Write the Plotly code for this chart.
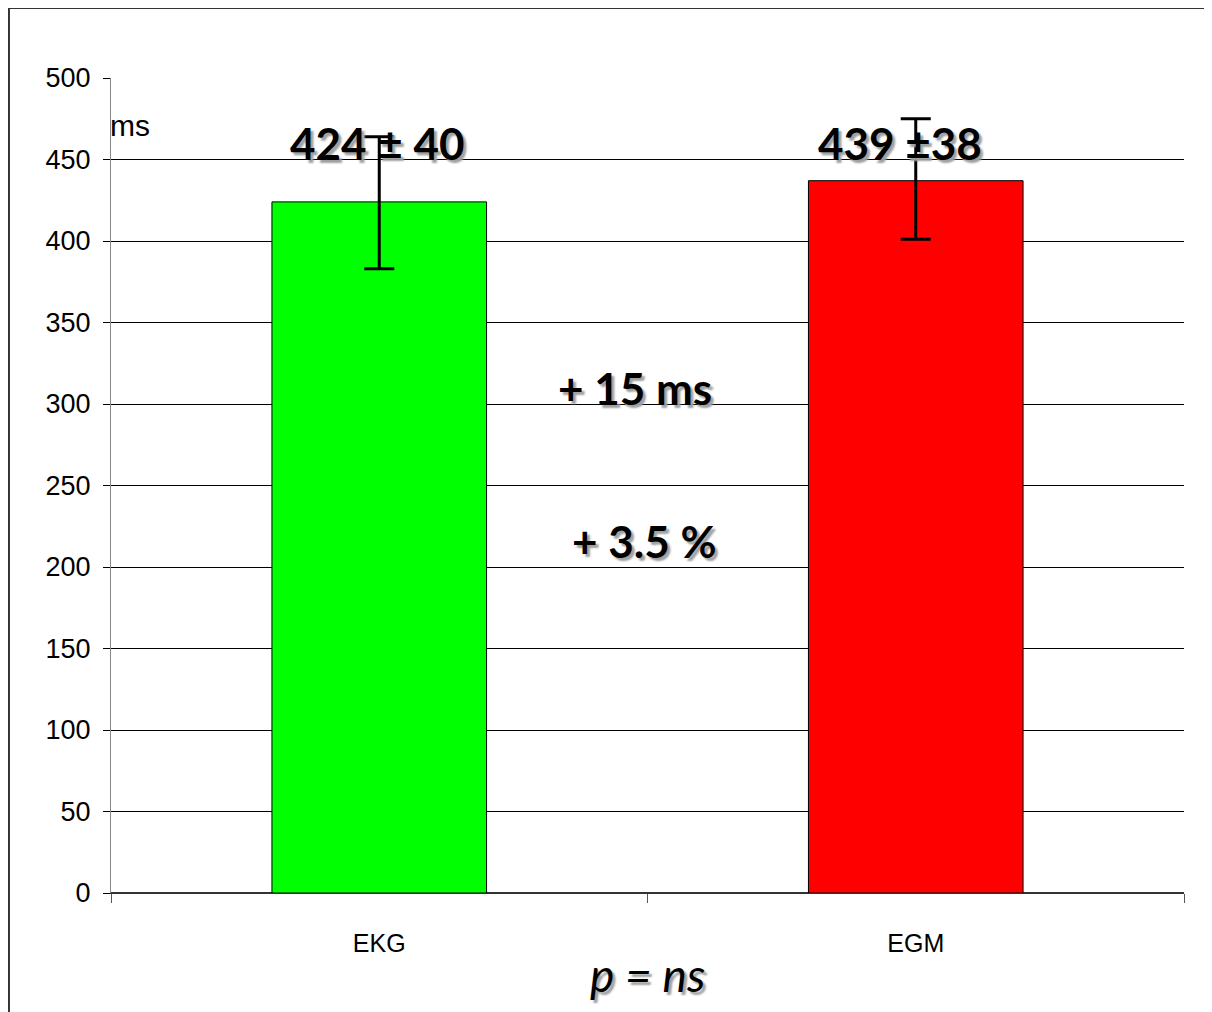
import plotly.graph_objects as go

categories = ["EKG", "EGM"]
means = [424, 437]
errors_plus = [40, 38]
errors_minus = [41, 36]
colors = ["#00ff00", "#ff0000"]
value_labels = ["424 ± 40", "439 ±38"]
diff_labels = ["+ 15 ms", "+ 3.5 %"]
y_ticks = list(range(0, 501, 50))

fig = go.Figure()
fig.add_trace(go.Bar(
    x=categories, y=means,
    marker=dict(color=colors, line=dict(color="black", width=1)),
    error_y=dict(type="data", symmetric=False, array=errors_plus, arrayminus=errors_minus,
                 visible=True, color="black", thickness=3, width=15),
    width=0.4,
))

shadow = "3px 3px 2px #a0a0a0"
bold = dict(family="Lato, Open Sans, sans-serif", size=44, color="black", weight="bold", shadow=shadow)

fig.add_annotation(x=categories[0], y=460, text=value_labels[0], showarrow=False, font=bold, xshift=-2)
fig.add_annotation(x=categories[1], y=460, text=value_labels[1], showarrow=False, font=bold, xshift=-16)
fig.add_annotation(x=0.5, y=310, text=diff_labels[0], showarrow=False, font=bold, xshift=-13)
fig.add_annotation(x=0.5, y=216, text=diff_labels[1], showarrow=False, font=bold, xshift=-4)
fig.add_annotation(x=0, xref="paper", xanchor="left", y=471, text="ms", showarrow=False,
                   font=dict(family="Liberation Sans, Arial", size=30, color="black"), xshift=-3)
fig.add_annotation(x=0.5, xref="paper", y=-0.1, yref="paper", yanchor="middle",
                   text="<i>p = ns</i>", showarrow=False,
                   font=dict(family="Lato, Open Sans, sans-serif", size=46, color="black", shadow=shadow))

fig.add_shape(type="rect", xref="paper", yref="paper", x0=-0.0951, x1=1.2, y0=-0.3, y1=1.0859,
              line=dict(color="#333333", width=2), fillcolor="rgba(0,0,0,0)", layer="below")

fig.update_layout(
    width=1212, height=1012,
    margin=dict(l=103, r=36, t=70, b=127),
    plot_bgcolor="white", paper_bgcolor="white",
    showlegend=False,
    bargap=0.6,
)
fig.update_xaxes(
    showline=True, linecolor="#333333", linewidth=1,
    ticks="outside", tickson="boundaries", ticklen=9, tickcolor="#555555",
    ticklabelstandoff=28,
    tickfont=dict(family="Liberation Sans, Arial", size=25, color="black"),
    showgrid=False,
)
fig.update_yaxes(
    range=[0, 500], tickvals=y_ticks,
    showline=True, linecolor="#888888", linewidth=1,
    ticks="outside", ticklen=7, tickcolor="black",
    ticklabelstandoff=7,
    gridcolor="black", gridwidth=1,
    zeroline=True, zerolinecolor="#333333",
    tickfont=dict(family="Liberation Sans, Arial", size=27, color="black"),
)

fig.write_html("out.html")
